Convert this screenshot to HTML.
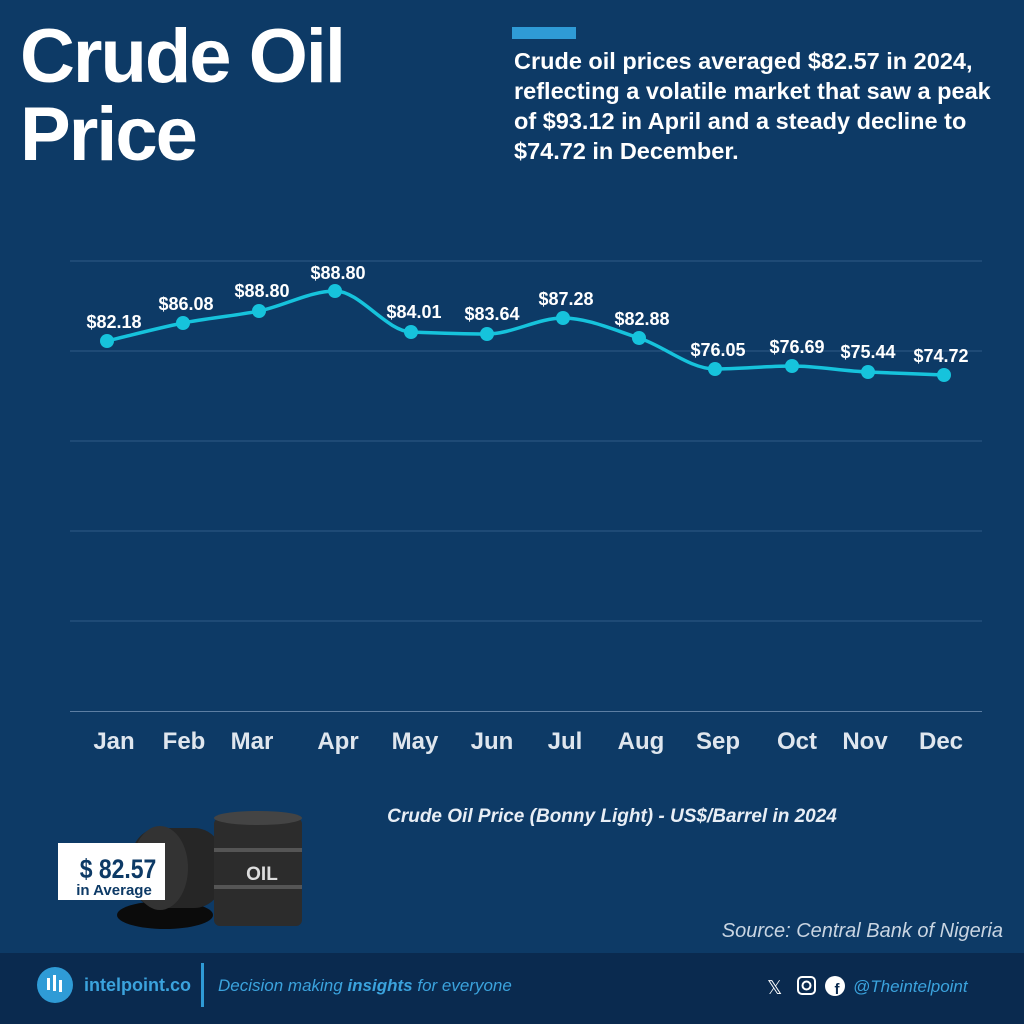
<!DOCTYPE html>
<html><head><style>
body{margin:0;width:1024px;height:1024px;background:#0d3a66;font-family:"Liberation Sans",sans-serif;overflow:hidden;position:relative}
.t{position:absolute;color:#fff;font-weight:bold}
</style></head><body>
<div class="t" style="left:20px;top:18px;font-size:76px;line-height:78px;letter-spacing:-2px">Crude Oil<br>Price</div>
<div style="position:absolute;left:512px;top:27px;width:64px;height:12px;background:#2f9bd6"></div>
<div class="t" style="left:514px;top:46px;font-size:23.5px;line-height:30px;width:510px;white-space:nowrap">Crude oil prices averaged $82.57 in 2024,<br>reflecting a volatile market that saw a peak<br>of $93.12 in April and a steady decline to<br>$74.72 in December.</div>
<svg width="1024" height="1024" style="position:absolute;left:0;top:0">
<g stroke="#2e5a86" stroke-width="1">
<line x1="70" x2="982" y1="261" y2="261"/><line x1="70" x2="982" y1="351" y2="351"/>
<line x1="70" x2="982" y1="441" y2="441"/><line x1="70" x2="982" y1="531" y2="531"/>
<line x1="70" x2="982" y1="621" y2="621"/><line x1="70" x2="982" y1="711.5" y2="711.5" stroke="#5c7ea3"/>
</g>
<path fill="none" stroke="#16c3dc" stroke-width="3.5" d="M107,341 C132,335 158,328 183,323 C208,318 234,316 259,311 C284,306 310,291 335,291 C360,291 386,331 411,332 C436,333 462,334 487,334 C512,334 538,318 563,318 C588,318 614,330 639,338 C664,346 690,369 715,369 C740,369 767,366 792,366 C817,366 843,371 868,372 C893,373 919,374 944,375"/>
<g fill="#16c3dc">
<circle cx="107" cy="341" r="7"/><circle cx="183" cy="323" r="7"/><circle cx="259" cy="311" r="7"/><circle cx="335" cy="291" r="7"/><circle cx="411" cy="332" r="7"/><circle cx="487" cy="334" r="7"/><circle cx="563" cy="318" r="7"/><circle cx="639" cy="338" r="7"/><circle cx="715" cy="369" r="7"/><circle cx="792" cy="366" r="7"/><circle cx="868" cy="372" r="7"/><circle cx="944" cy="375" r="7"/>
</g>
<g fill="#fff" font-weight="bold" font-size="18" text-anchor="middle">
<text x="114" y="328">$82.18</text><text x="186" y="310">$86.08</text><text x="262" y="297">$88.80</text><text x="338" y="279">$88.80</text><text x="414" y="318">$84.01</text><text x="492" y="320">$83.64</text><text x="566" y="305">$87.28</text><text x="642" y="325">$82.88</text><text x="718" y="356">$76.05</text><text x="797" y="353">$76.69</text><text x="868" y="358">$75.44</text><text x="941" y="362">$74.72</text>
</g>
<g fill="#dfe6ee" font-weight="bold" font-size="24" text-anchor="middle">
<text x="114" y="749">Jan</text><text x="184" y="749">Feb</text><text x="252" y="749">Mar</text><text x="338" y="749">Apr</text><text x="415" y="749">May</text><text x="492" y="749">Jun</text><text x="565" y="749">Jul</text><text x="641" y="749">Aug</text><text x="718" y="749">Sep</text><text x="797" y="749">Oct</text><text x="865" y="749">Nov</text><text x="941" y="749">Dec</text>
</g>
<text x="612" y="822" text-anchor="middle" fill="#e8eef5" font-size="19" font-weight="bold" font-style="italic">Crude Oil Price (Bonny Light) - US$/Barrel in 2024</text>
<text x="1003" y="937" text-anchor="end" fill="#c9d5e2" font-size="20" font-style="italic">Source: Central Bank of Nigeria</text>
<ellipse cx="165" cy="915" rx="48" ry="14" fill="#0b0b0b"/>
<rect x="132" y="828" width="90" height="80" rx="28" fill="#262626"/>
<ellipse cx="160" cy="868" rx="28" ry="42" fill="#333"/>
<rect x="214" y="818" width="88" height="108" rx="6" fill="#2c2c2c"/>
<ellipse cx="258" cy="818" rx="44" ry="7" fill="#444"/>
<rect x="214" y="848" width="88" height="4" fill="#555"/><rect x="214" y="885" width="88" height="4" fill="#555"/>
<text x="262" y="880" text-anchor="middle" fill="#ddd" font-weight="bold" font-size="19">OIL</text>
<rect x="58" y="843" width="107" height="57" fill="#fff"/>
<text x="118" y="878" text-anchor="middle" fill="#0d3a66" font-weight="bold" font-size="27" transform="scale(0.85,1)" style="transform-origin:118px 878px">$ 82.57</text>
<text x="114" y="895" text-anchor="middle" fill="#0d3a66" font-weight="bold" font-size="15">in Average</text>
<rect x="0" y="953" width="1024" height="71" fill="#0a2a4f"/>
<circle cx="55" cy="985" r="18" fill="#2f9bd6"/>
<rect x="47" y="978" width="3" height="12" fill="#fff"/><rect x="53" y="975" width="3" height="16" fill="#fff"/><rect x="59" y="980" width="3" height="12" fill="#fff"/>
<text x="84" y="991" fill="#3ba3dd" font-weight="bold" font-size="18">intelpoint.co</text>
<rect x="201" y="963" width="3" height="44" fill="#2f9bd6"/>
<text x="218" y="991" fill="#3ba3dd" font-style="italic" font-size="17">Decision making <tspan font-weight="bold">insights</tspan> for everyone</text>
<text x="767" y="994" fill="#fff" font-size="19">𝕏</text>
<rect x="798" y="977" width="17" height="17" rx="4" fill="none" stroke="#fff" stroke-width="2"/><circle cx="806.5" cy="985.5" r="4" fill="none" stroke="#fff" stroke-width="2"/>
<circle cx="835" cy="986" r="10" fill="#fff"/><text x="837" y="994" fill="#0a2a4f" font-weight="bold" font-size="15" text-anchor="middle">f</text>
<text x="853" y="992" fill="#3ba3dd" font-style="italic" font-size="17">@Theintelpoint</text>
</svg>
</body></html>
